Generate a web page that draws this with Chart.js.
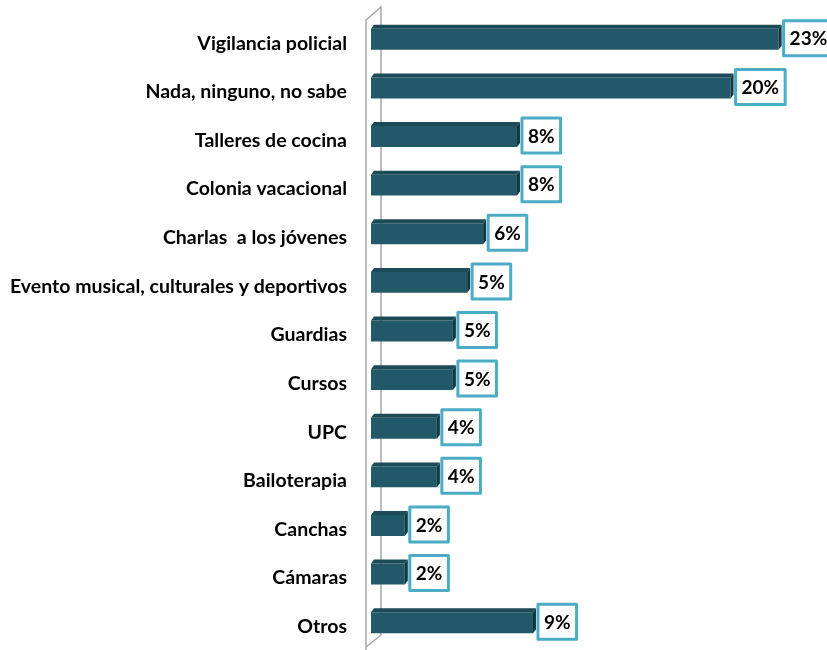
<!DOCTYPE html>
<html>
<head>
<meta charset="utf-8">
<script src="https://cdn.jsdelivr.net/npm/chart.js@4"></script>
<style>
  html, body { margin: 0; padding: 0; background: #fff; }
  #wrap { width: 827px; height: 650px; position: relative; }
</style>
</head>
<body>
<div id="wrap"><canvas id="chart"></canvas></div>
<script>
// categories and values (percent)
const categories = [
    "Vigilancia policial",
    "Nada, ninguno, no sabe",
    "Talleres de cocina",
    "Colonia vacacional",
    "Charlas  a los jóvenes",
    "Evento musical, culturales y deportivos",
    "Guardias",
    "Cursos",
    "UPC",
    "Bailoterapia",
    "Canchas",
    "Cámaras",
    "Otros"
];
const values = [22.9, 20.2, 8.2, 8.2, 6.3, 5.4, 4.6, 4.6, 3.7, 3.7, 1.9, 1.9, 9.1];
const xMin = 0;
const xMax = 25;

const FRONT = "#215968";
const TOP = "#1c4a56";
const SIDE = "#143640";
const BOX = "#4bacc6";
const DX = 3, DY = 4;

// back wall of the 3D chart
const wallPlugin = {
    id: "wall",
    beforeDatasetsDraw(chart) {
        const ctx = chart.ctx;
        const area = chart.chartArea;
        const x0 = area.left - 5, x1 = area.left + 10;
        ctx.save();
        ctx.strokeStyle = "#a6a6a6";
        ctx.lineWidth = 1.5;
        ctx.beginPath();
        ctx.moveTo(x0, 652);
        ctx.lineTo(x0, 20);
        ctx.lineTo(x1, 7);
        ctx.lineTo(x1, 635);
        ctx.lineTo(x0, 647);
        ctx.stroke();
        ctx.restore();
    }
};

// top and side faces for the bars, then the boxed labels
const barFacesPlugin = {
    id: "barFaces",
    afterDatasetsDraw(chart) {
        const ctx = chart.ctx;
        const meta = chart.getDatasetMeta(0);
        ctx.save();
        meta.data.forEach((bar, i) => {
            const x0 = bar.base, x1 = bar.x;
            const yt = bar.y - bar.height / 2, yb = bar.y + bar.height / 2;
            ctx.fillStyle = TOP;
            ctx.beginPath();
            ctx.moveTo(x0, yt);
            ctx.lineTo(x0 + DX, yt - DY);
            ctx.lineTo(x1 + DX, yt - DY);
            ctx.lineTo(x1, yt);
            ctx.closePath();
            ctx.fill();
            ctx.fillStyle = SIDE;
            ctx.beginPath();
            ctx.moveTo(x1, yt);
            ctx.lineTo(x1 + DX, yt - DY);
            ctx.lineTo(x1 + DX, yb - DY);
            ctx.lineTo(x1, yb);
            ctx.closePath();
            ctx.fill();

            // value label box
            const txt = Math.round(values[i]) + "%";
            ctx.font = "bold 19px Lato";
            const w = ctx.measureText(txt).width + 12;
            const h = 35;
            const bx = x1 + DX + 2;
            const by = bar.y - DY / 2 - h / 2 + 1;
            ctx.fillStyle = "#fff";
            ctx.fillRect(bx, by, w, h);
            ctx.strokeStyle = BOX;
            ctx.lineWidth = 3;
            ctx.lineJoin = "round";
            ctx.strokeRect(bx, by, w, h);
            ctx.fillStyle = "#000";
            ctx.textAlign = "center";
            ctx.textBaseline = "middle";
            ctx.fillText(txt, bx + w / 2, by + h / 2 + 1);
        });
        ctx.restore();
    }
};

const chart = new Chart(document.getElementById("chart").getContext("2d"), {
    type: "bar",
    data: {
        labels: categories,
        datasets: [{
            data: values,
            backgroundColor: FRONT,
            borderWidth: 0,
            barPercentage: 0.43,
            categoryPercentage: 1
        }]
    },
    options: {
        indexAxis: "y",
        responsive: true,
        maintainAspectRatio: false,
        animation: false,
        layout: { padding: { left: 0, right: 11, top: 15, bottom: 3 } },
        plugins: { legend: { display: false }, tooltip: { enabled: false } },
        scales: {
            x: { display: false, min: xMin, max: xMax },
            y: {
                grid: { display: false, drawTicks: false },
                border: { display: false },
                ticks: {
                    color: "#000",
                    padding: 24,
                    labelOffset: 4,
                    font: { family: "Lato", weight: "bold", size: 19.5 }
                },
                afterFit(scale) {
                    scale.width = 371;
                    scale.paddingTop = 0;
                    scale.paddingBottom = 0;
                }
            }
        }
    },
    plugins: [wallPlugin, barFacesPlugin]
});
</script>
</body>
</html>
